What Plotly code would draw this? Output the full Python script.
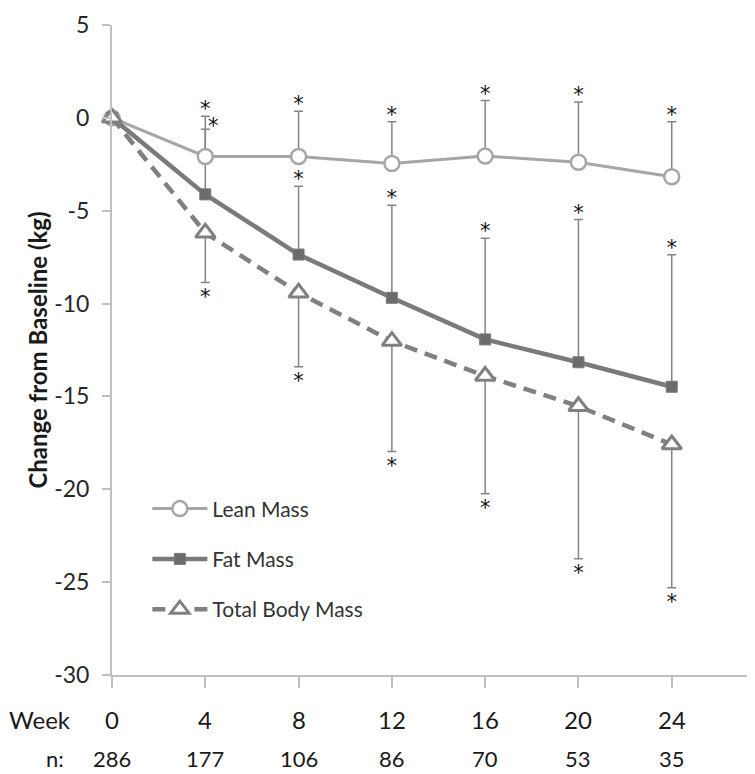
import plotly.graph_objects as go

weeks = [0, 4, 8, 12, 16, 20, 24]
n_values = [286, 177, 106, 86, 70, 53, 35]
y_ticks = [5, 0, -5, -10, -15, -20, -25, -30]

lean_mass = [0, -2.08, -2.08, -2.46, -2.06, -2.39, -3.17]
lean_err_up = [None, 2.17, 2.44, 2.25, 3.00, 3.24, 2.96]

fat_mass = [0, -4.12, -7.36, -9.69, -11.93, -13.16, -14.48]
fat_err_up = [None, 3.50, 3.68, 4.99, 5.45, 7.69, 7.11]

total_mass = [0, -6.19, -9.42, -12.02, -13.90, -15.53, -17.59]
total_err_down = [None, 2.67, 3.98, 5.94, 6.34, 8.21, 7.71]

FONT = "Lato, Open Sans, sans-serif"
LEAN_C = "#a6a6a6"
FAT_C = "#7a7a7a"
TOT_C = "#808080"
ERR_C = "#858585"

PX_PER_UNIT = 650 / 35.0
PLOT_W = 643.0

fig = go.Figure()

def err_trace(y, up=None, down=None):
    zeros = [0] * len(y)
    return go.Scatter(
        x=weeks, y=y, mode="markers",
        marker=dict(size=1, color="rgba(0,0,0,0)"),
        error_y=dict(type="data", symmetric=False,
                     array=up if up else zeros,
                     arrayminus=down if down else zeros,
                     color=ERR_C, thickness=1.5, width=4.5),
        showlegend=False, hoverinfo="skip", cliponaxis=False)

# error bars (drawn first, behind the markers)
fig.add_trace(err_trace(fat_mass, up=fat_err_up))
fig.add_trace(err_trace(lean_mass, up=lean_err_up))
fig.add_trace(err_trace(total_mass, down=total_err_down))

# asterisks marking significance, placed just beyond the error-bar caps
up_off = 5 / PX_PER_UNIT
down_off = 16 / PX_PER_UNIT
ast_x, ast_y = [], []
for w, m, e in zip(weeks, lean_mass, lean_err_up):
    if e is not None:
        ast_x.append(w); ast_y.append(m + e + up_off)
for i, (w, m, e) in enumerate(zip(weeks, fat_mass, fat_err_up)):
    if e is not None:
        if i == 1:
            ast_x.append(w + 8 * 4 / 93.33); ast_y.append(m + e + 2 / PX_PER_UNIT)
        else:
            ast_x.append(w); ast_y.append(m + e + up_off)
for w, m, e in zip(weeks, total_mass, total_err_down):
    if e is not None:
        ast_x.append(w); ast_y.append(m - e - down_off)
fig.add_trace(go.Scatter(x=ast_x, y=ast_y, mode="text", text=["*"] * len(ast_x),
                         textposition="middle center",
                         textfont=dict(family="DejaVu Sans, sans-serif", size=21, color="#111111"),
                         showlegend=False, hoverinfo="skip", cliponaxis=False))

fig.add_trace(go.Scatter(
    x=weeks, y=lean_mass, mode="lines+markers", name="Lean Mass",
    line=dict(color=LEAN_C, width=3),
    marker=dict(symbol="circle", size=15, color="white", line=dict(color=LEAN_C, width=2.5)),
    legendgroup="a", legendrank=1, cliponaxis=False))
fig.add_trace(go.Scatter(
    x=weeks, y=fat_mass, mode="lines+markers", name="Fat Mass",
    line=dict(color=FAT_C, width=4.5),
    marker=dict(symbol="square", size=11, color="#6b6b6b", line=dict(color=FAT_C, width=1)),
    legendgroup="b", legendrank=2, cliponaxis=False))
fig.add_trace(go.Scatter(
    x=weeks, y=total_mass, mode="lines+markers", name="Total Body Mass",
    line=dict(color=TOT_C, width=4.5, dash="13px,8px"),
    marker=dict(symbol="triangle-up", size=17, color="white", line=dict(color=TOT_C, width=3)),
    legendgroup="c", legendrank=3, cliponaxis=False))

LBL = dict(family=FONT, size=24, color="#1a1a1a")
NLBL = dict(family=FONT, size=22, color="#1a1a1a")
annotations = []
for w in weeks:
    annotations.append(dict(x=w, y=-0.068, xref="x", yref="paper", text=str(w),
                            showarrow=False, xanchor="center", yanchor="middle", font=LBL))
for w, nv in zip(weeks, n_values):
    annotations.append(dict(x=w, y=-0.129, xref="x", yref="paper", text=str(nv),
                            showarrow=False, xanchor="center", yanchor="middle", font=NLBL,
                            borderpad=0))
annotations.append(dict(x=-72 / PLOT_W, y=-0.068, xref="paper", yref="paper",
                        text="Week", showarrow=False, xanchor="center", yanchor="middle", font=LBL))
annotations.append(dict(x=-57 / PLOT_W, y=-0.129, xref="paper", yref="paper",
                        text="n:", showarrow=False, xanchor="center", yanchor="middle", font=NLBL,
                        borderpad=0))

# the page body adds an 8px offset, so the figure is 8px smaller and margins shifted
fig.update_layout(
    width=747, height=766,
    margin=dict(l=104, r=0, t=17, b=99, autoexpand=False),
    paper_bgcolor="white", plot_bgcolor="white",
    font=dict(family=FONT, color="#262626"),
    showlegend=True,
    legend=dict(x=0.055, y=0.287, xanchor="left", yanchor="top",
                bgcolor="rgba(0,0,0,0)", font=dict(family=FONT, size=21, color="#333333"),
                traceorder="grouped", tracegroupgap=20, itemwidth=55),
    annotations=annotations,
    xaxis=dict(range=[0, 27.57], tickvals=weeks, showticklabels=False,
               ticks="outside", ticklen=11, tickcolor="#c0c0c0", tickwidth=1.5,
               showline=True, linecolor="#c0c0c0", linewidth=2,
               showgrid=False, zeroline=False, automargin=False),
    yaxis=dict(range=[-30, 5], tickvals=y_ticks, ticktext=[str(v) for v in y_ticks],
               ticks="outside", ticklen=8,
               tickcolor="#c0c0c0", tickwidth=1.5, showline=True,
               linecolor="#c0c0c0", linewidth=2, showgrid=False, zeroline=False,
               tickfont=dict(family=FONT, size=23, color="#262626"),
               ticklabelstandoff=8, automargin=False,
               title=dict(text="<b>Change from Baseline (kg)</b>", standoff=0,
                          font=dict(family=FONT, size=24, color="#1a1a1a"))),
)

fig.write_html("out.html")
